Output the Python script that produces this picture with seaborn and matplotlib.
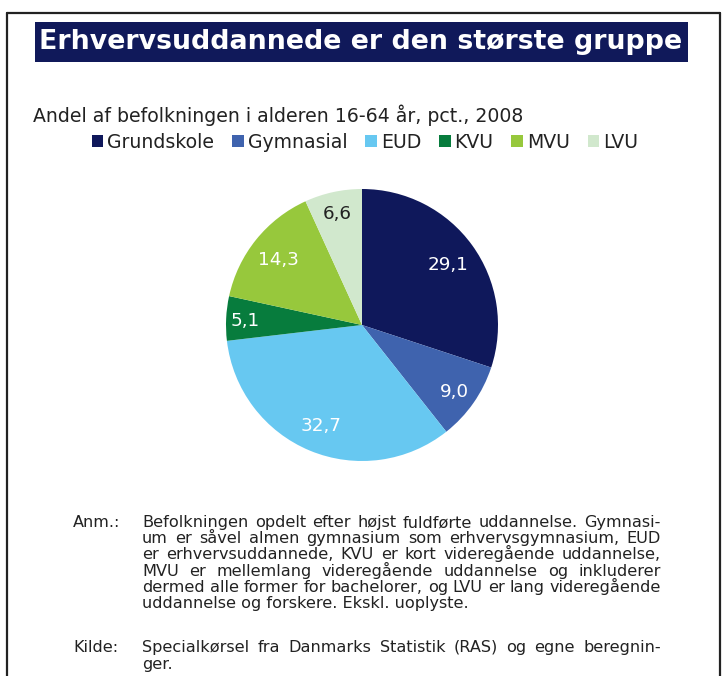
import matplotlib
matplotlib.use("Agg")
import matplotlib.pyplot as plt
from matplotlib.patches import Rectangle, Patch
from matplotlib.lines import Line2D
import seaborn as sns
import numpy as np

categories = ["Grundskole", "Gymnasial", "EUD", "KVU", "MVU", "LVU"]
values = [29.1, 9.0, 32.7, 5.1, 14.3, 6.6]
value_labels = ["29,1", "9,0", "32,7", "5,1", "14,3", "6,6"]
colors = ["#0f185b", "#3f63ae", "#67c8f1", "#077c3d", "#97c83c", "#d1e8cd"]
label_colors = ["white", "white", "white", "white", "white", "#222222"]
# distance of each value label from the centre (fraction of radius)
label_radius = [0.78, 0.83, 0.79, 0.86, 0.79, 0.85]

title = "Erhvervsuddannede er den største gruppe"
subtitle = "Andel af befolkningen i alderen 16-64 år, pct., 2008"
note_lines = [
    "Befolkningen opdelt efter højst fuldførte uddannelse. Gymnasi-",
    "um er såvel almen gymnasium som erhvervsgymnasium, EUD",
    "er erhvervsuddannede, KVU er kort videregående uddannelse,",
    "MVU er mellemlang videregående uddannelse og inkluderer",
    "dermed alle former for bachelorer, og LVU er lang videregående",
    "uddannelse og forskere. Ekskl. uoplyste.",
]
source_lines = [
    "Specialkørsel fra Danmarks Statistik (RAS) og egne beregnin-",
    "ger.",
]

sns.set_style("white")
plt.rcParams['font.family'] = ['DejaVu Sans']

W, H = 723, 676
fig = plt.figure(figsize=(W / 100, H / 100), dpi=100)


def fx(x):
    return x / W


def fy(y):
    return 1 - y / H


# frame lines
fig.add_artist(Line2D([fx(7), fx(7)], [fy(13), 0], color="#222222", lw=1.6))
fig.add_artist(Line2D([fx(7), fx(720)], [fy(13), fy(13)], color="#222222", lw=1.6))
fig.add_artist(Line2D([fx(720), fx(720)], [fy(13), 0], color="#222222", lw=1.6))

# title box
fig.add_artist(Rectangle((fx(35), fy(62)), fx(688) - fx(35), fy(22) - fy(62),
                         facecolor="#10195a", edgecolor="none"))
fig.text(fx(361), fy(42), title, color="white", fontsize=19.3, fontweight="bold",
         ha="center", va="center")

fig.text(fx(33), fy(115), subtitle, fontsize=13.6, color="#222222", ha="left", va="center")

# pie
ax = fig.add_axes([fx(226), fy(461), fx(498) - fx(226), fy(189) - fy(461)])
palette = sns.color_palette(colors)
wedges, _ = ax.pie(values, colors=palette, startangle=90, counterclock=False, radius=1,
                   wedgeprops=dict(linewidth=0))
total = sum(values)
cum = 0
for v, lab, lc, r in zip(values, value_labels, label_colors, label_radius):
    mid = 90 - (cum + v / 2) / total * 360
    cum += v
    ax.text(r * np.cos(np.radians(mid)), r * np.sin(np.radians(mid)), lab,
            ha="center", va="center_baseline", fontsize=13.2, color=lc)
ax.set_xlim(-1, 1)
ax.set_ylim(-1, 1)
ax.set_aspect("equal")
ax.axis("off")

handles = [Patch(facecolor=c, edgecolor="none") for c in palette]
fig.legend(handles, categories, loc="center", bbox_to_anchor=(fx(365), fy(142)), ncol=6,
           frameon=False, fontsize=13.6, labelcolor="#222222", handlelength=0.62,
           handleheight=0.62, handletextpad=0.2, columnspacing=0.95, borderpad=0)

# notes, justified
renderer = fig.canvas.get_renderer()
FS = 11.6
BASE = 5  # baseline sits a few pixels below the line's centre


def justified(lines, x0, x1, y0, dy, fs=FS):
    for i, line in enumerate(lines):
        y = fy(y0 + i * dy + BASE)
        words = line.split(" ")
        last = i == len(lines) - 1
        if last or len(words) == 1:
            fig.text(fx(x0), y, line, fontsize=fs, color="#222222", va="baseline")
            continue
        ts = [fig.text(0, y, w, fontsize=fs, color="#222222", va="baseline") for w in words]
        widths = [t.get_window_extent(renderer).width for t in ts]
        gap = (x1 - x0 - sum(widths)) / (len(words) - 1)
        x = x0
        for t, w in zip(ts, widths):
            t.set_x(fx(x))
            x += w + gap


fig.text(fx(73), fy(522 + BASE), "Anm.:", fontsize=FS, color="#222222", va="baseline")
justified(note_lines, 142, 661, 522, 16.2)
fig.text(fx(73), fy(647 + BASE), "Kilde:", fontsize=FS, color="#222222", va="baseline")
justified(source_lines, 142, 661, 647, 17)

fig.savefig("out.png", dpi=100)
